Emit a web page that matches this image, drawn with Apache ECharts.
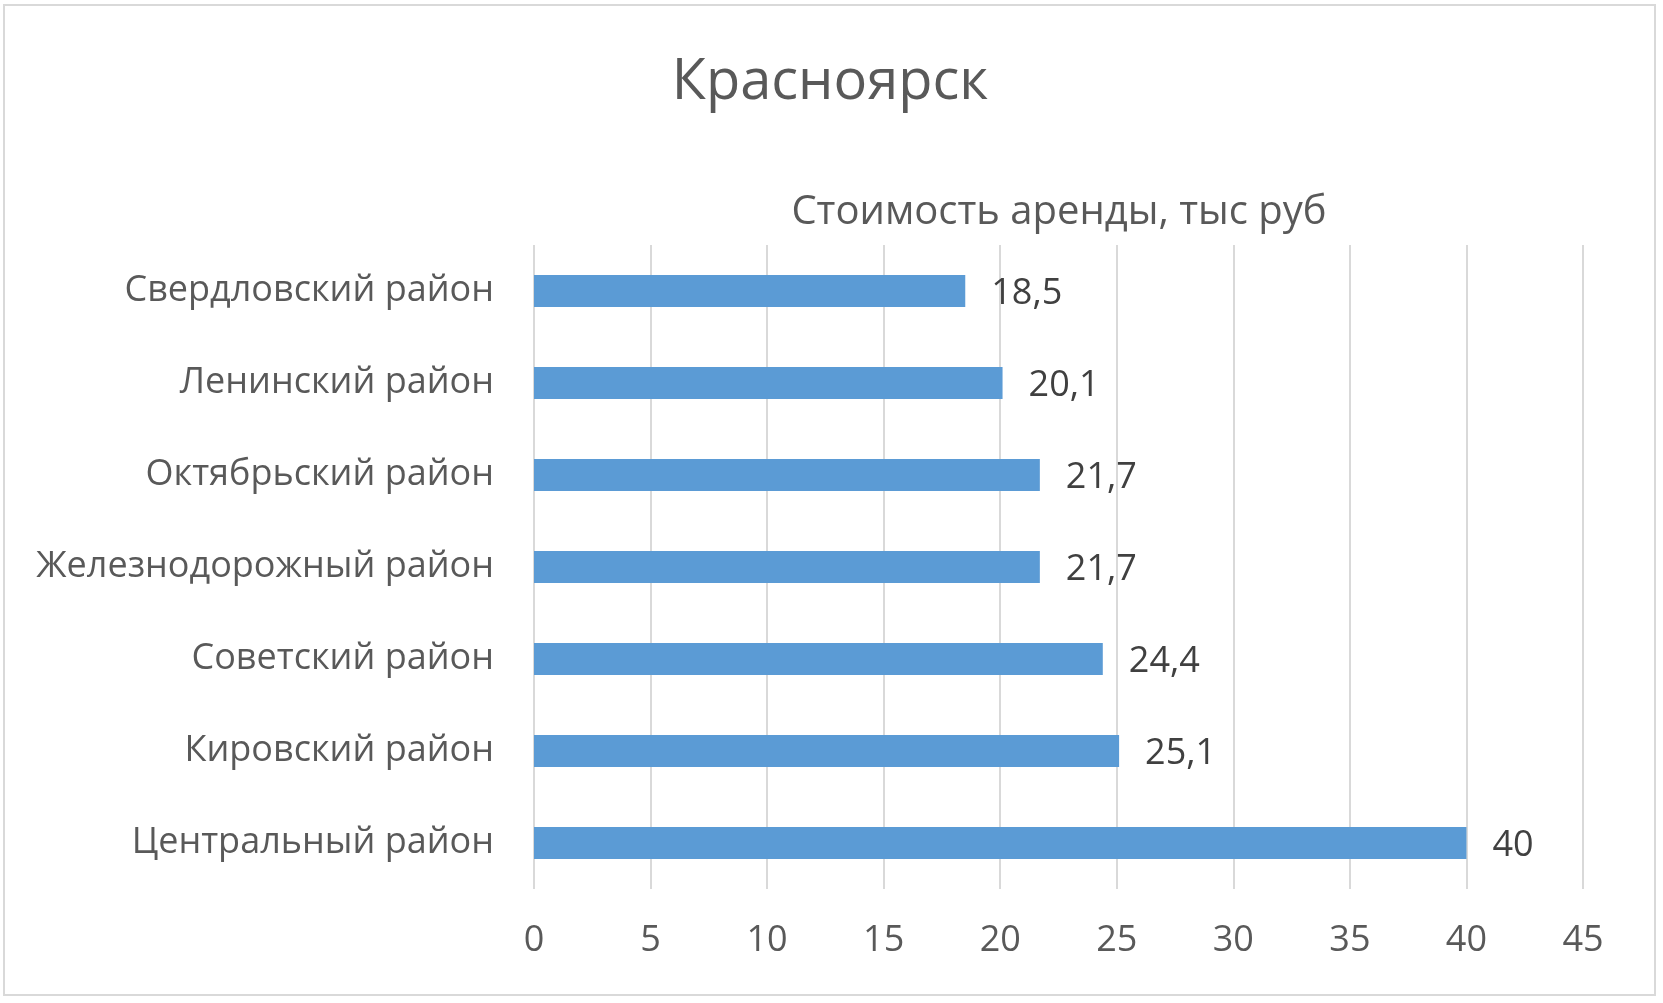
<!DOCTYPE html>
<html>
<head>
<meta charset="utf-8">
<script src="https://cdn.jsdelivr.net/npm/echarts@6/dist/echarts.min.js"></script>
<style>
html,body{margin:0;padding:0;background:#fff;}
#chart{width:1663px;height:1003px;}
</style>
</head>
<body>
<div id="chart"></div>
<script>
const categories = ['Центральный район','Кировский район','Советский район','Железнодорожный район','Октябрьский район','Ленинский район','Свердловский район'];
const values = [40, 25.1, 24.4, 21.7, 21.7, 20.1, 18.5];
const xTicks = [0, 5, 10, 15, 20, 25, 30, 35, 40, 45];
const titleText = 'Красноярск';
const seriesName = 'Стоимость аренды, тыс руб';

const FONT = '"Open Sans", "Noto Sans", sans-serif';
const chart = echarts.init(document.getElementById('chart'), null, {renderer: 'canvas'});
chart.setOption({
  backgroundColor: '#ffffff',
  animation: false,
  title: [
    {text: titleText, left: 825, top: 50, textAlign: 'center',
     textStyle: {fontFamily: FONT, fontSize: 56, fontWeight: 'normal', color: '#595959'}},
    {text: seriesName, left: 1054, top: 188, textAlign: 'center',
     textStyle: {fontFamily: FONT, fontSize: 40, fontWeight: 'normal', color: '#595959'}}
  ],
  graphic: [{
    type: 'rect', shape: {x: 4, y: 5, width: 1651, height: 990},
    style: {fill: 'none', stroke: '#d9d9d9', lineWidth: 2}, silent: true
  }],
  grid: {left: 534, right: 80, top: 245, bottom: 114, containLabel: false},
  xAxis: {
    type: 'value', min: xTicks[0], max: xTicks[xTicks.length - 1], interval: 5,
    axisLine: {show: false}, axisTick: {show: false},
    axisLabel: {fontFamily: FONT, fontSize: 36, color: '#595959', margin: 34},
    splitLine: {show: true, lineStyle: {color: '#d9d9d9', width: 2}}
  },
  yAxis: {
    type: 'category', data: categories,
    axisLine: {show: false}, axisTick: {show: false},
    axisLabel: {fontFamily: FONT, fontSize: 36, color: '#595959', margin: 40}
  },
  series: [{
    type: 'bar', name: seriesName, data: values, barWidth: 32,
    itemStyle: {color: '#5b9bd5'},
    label: {show: true, position: 'right', distance: 26, offset: [0, 3],
      fontFamily: FONT, fontSize: 36, color: '#404040',
      formatter: p => String(p.value).replace('.', ',')}
  }]
});
</script>
</body>
</html>
